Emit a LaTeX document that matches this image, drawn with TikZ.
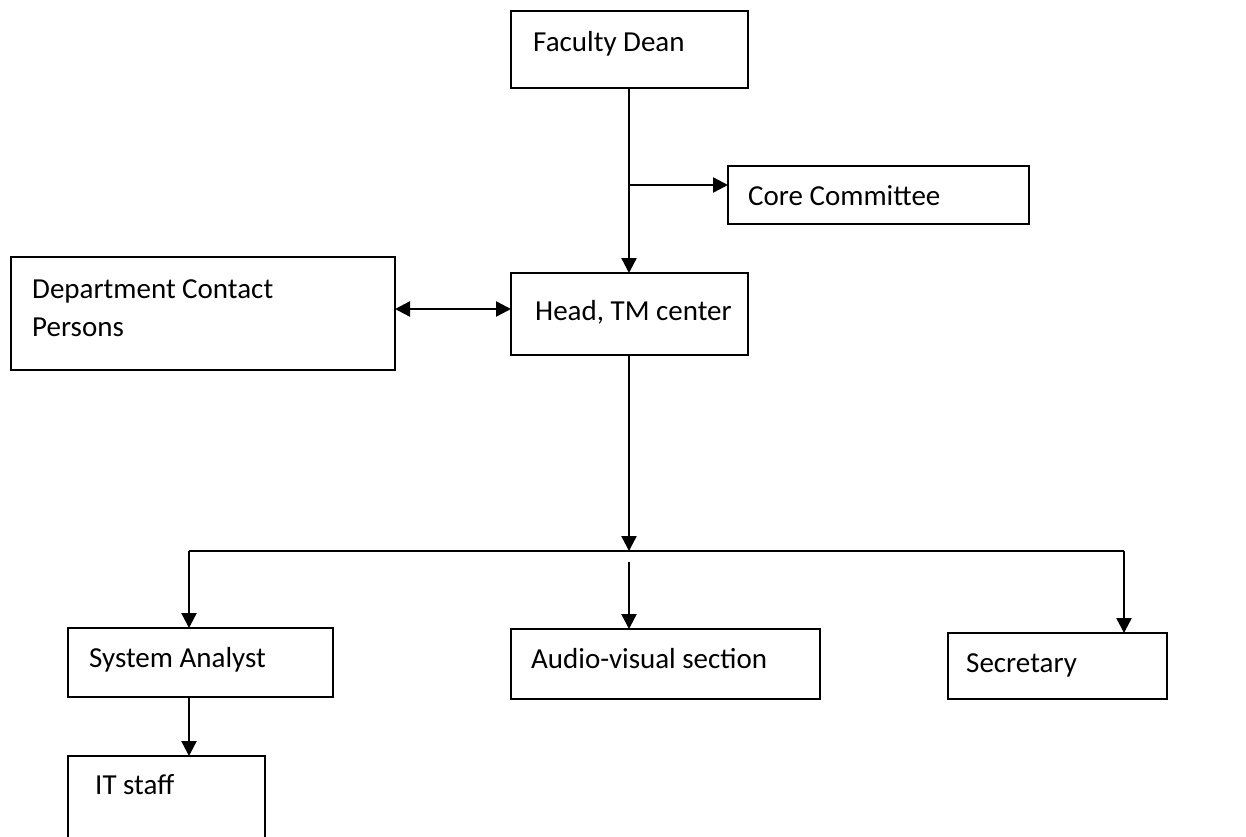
\documentclass[tikz,border=0pt]{standalone}
\usepackage{fontspec}
\setmainfont{Carlito}
\usetikzlibrary{arrows.meta}
\begin{document}
\begin{tikzpicture}[x=1pt,y=-1pt,
  box/.style={draw, line width=2pt, inner sep=0pt, outer sep=0pt},
  wire/.style={line width=2.4pt},
  conn/.style={wire, -{Triangle[length=15pt,width=15pt]}},
  conn2/.style={wire, {Triangle[length=15pt,width=15pt]}-{Triangle[length=15pt,width=15pt]}},
  lbl/.style={anchor=base west, inner sep=0pt, font=\fontsize{29}{35}\selectfont}]
\useasboundingbox (0,0) rectangle (1246,836);
\clip (0,0) rectangle (1246,836);
% boxes
\node[box, minimum width=237pt, minimum height=77pt] (fd) at (629.5,49.5) {};
\node[box, minimum width=301pt, minimum height=58pt] (cc) at (878.5,195) {};
\node[box, minimum width=237pt, minimum height=82pt] (head) at (629.5,314) {};
\node[box, minimum width=384pt, minimum height=113pt] (dept) at (203,313.5) {};
\node[box, minimum width=265pt, minimum height=69pt] (sa) at (200.5,662.5) {};
\node[box, minimum width=309pt, minimum height=70pt] (av) at (665.5,664) {};
\node[box, minimum width=219pt, minimum height=66pt] (sec) at (1057.5,666) {};
\node[box, minimum width=197pt, minimum height=94pt] (it) at (166.5,803) {};
% labels
\node[lbl] (tfd) at (533,51) {Faculty Dean};
\node[lbl] (tcc) at (748,205) {Core Committee};
\node[lbl] (thead) at (535,320) {Head, TM center};
\node[lbl] (tdept1) at (32,298) {Department Contact};
\node[lbl] (tdept2) at (32,336) {Persons};
\node[lbl] (tsa) at (89,667) {System Analyst};
\node[lbl] (tav) at (531,668) {Audio-visual section};
\node[lbl] (tsec) at (966,672) {Secretary};
\node[lbl] (tit) at (95,794) {IT staff};
% junctions
\coordinate (j1) at (629,185);
\coordinate (dj) at (450,309);
\coordinate (bus) at (629,551);
\coordinate (busL) at (189,551);
\coordinate (busR) at (1124,551);
\coordinate (mid) at (629,562);
% connectors
\draw[conn] (fd.south -| j1) -- (j1 |- head.north);
\draw[conn] (j1) -- (cc.west |- j1);
\draw[conn2] (dept.east |- dj) -- (head.west |- dj);
\draw[conn] (head.south -| bus) -- (bus);
\draw[wire] (busL) -- (busR);
\draw[conn] (busL) -- (sa.north -| busL);
\draw[conn] (mid) -- (av.north -| mid);
\draw[conn] (busR) -- (sec.north -| busR);
\draw[conn] (sa.south -| busL) -- (it.north -| busL);
\end{tikzpicture}
\end{document}
